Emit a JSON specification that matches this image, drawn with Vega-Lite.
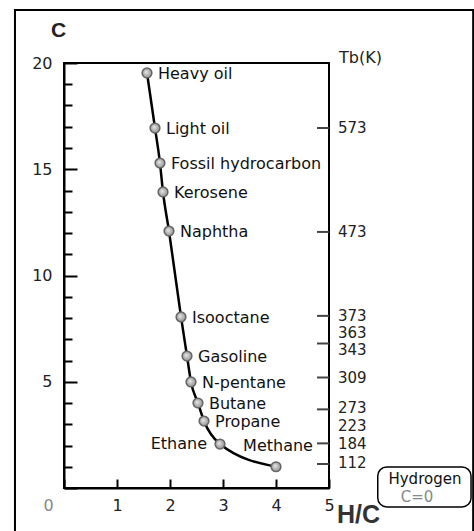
{
  "$schema": "https://vega.github.io/schema/vega-lite/v6.json",
  "width": 265,
  "height": 425,
  "autosize": {"type": "none"},
  "padding": {"left": 64, "top": 63, "right": 145, "bottom": 43},
  "background": "white",
  "config": {
    "view": {"stroke": "black", "strokeWidth": 2},
    "text": {"font": "DejaVu Sans", "fontSize": 16, "color": "#111"},
    "axis": {"grid": false, "domainColor": "black", "domainWidth": 2, "tickColor": "black", "tickWidth": 2,
      "labelFont": "DejaVu Sans", "labelFontSize": 16, "labelColor": "#222", "labelFlush": false, "labelOverlap": false,
      "titleFont": "Liberation Sans", "titleFontWeight": "bold", "titleAlign": "center", "titleBaseline": "middle"}
  },
  "datasets": {
    "points": [
      {"name": "Heavy oil", "hc": 1.566, "c": 19.53},
      {"name": "Light oil", "hc": 1.717, "c": 16.94},
      {"name": "Fossil hydrocarbon", "hc": 1.811, "c": 15.29},
      {"name": "Kerosene", "hc": 1.868, "c": 13.93},
      {"name": "Naphtha", "hc": 1.981, "c": 12.09},
      {"name": "Isooctane", "hc": 2.208, "c": 8.05},
      {"name": "Gasoline", "hc": 2.321, "c": 6.21},
      {"name": "N-pentane", "hc": 2.396, "c": 4.99},
      {"name": "Butane", "hc": 2.528, "c": 4.0},
      {"name": "Propane", "hc": 2.642, "c": 3.15},
      {"name": "Ethane", "hc": 2.943, "c": 2.07},
      {"name": "Methane", "hc": 4.0, "c": 1.0}
    ],
    "tbLabels": [
      {"tb": "573", "c": 16.94},
      {"tb": "473", "c": 12.05},
      {"tb": "373", "c": 8.1},
      {"tb": "363", "c": 7.3},
      {"tb": "343", "c": 6.5},
      {"tb": "309", "c": 5.2},
      {"tb": "273", "c": 3.75},
      {"tb": "223", "c": 2.9},
      {"tb": "184", "c": 2.07},
      {"tb": "112", "c": 1.2}
    ],
    "tbTicks": [
      {"c": 16.94}, {"c": 12.05}, {"c": 8.1}, {"c": 6.8}, {"c": 5.2},
      {"c": 3.7}, {"c": 2.1}, {"c": 1.13}
    ]
  },
  "layer": [
    {
      "data": {"name": "points"},
      "mark": {"type": "line", "interpolate": "monotone", "color": "black", "strokeWidth": 2.5},
      "encoding": {
        "order": {"field": "hc", "type": "quantitative"},
        "x": {"field": "hc", "type": "quantitative", "scale": {"domain": [0, 5], "nice": false, "zero": false},
          "axis": {"tickCount": 10, "tickMinStep": 1, "title": "H/C", "titleX": 294, "titleY": 26, "titleFontSize": 25, "titleColor": "#333", "tickSize": -9, "labelPadding": 18,
            "labelColor": {"condition": {"test": "datum.value === 0", "value": "#888"}, "value": "#222"},
            "labelOffset": {"condition": {"test": "datum.value === 0", "value": -16}, "value": 0}}},
        "y": {"field": "c", "type": "quantitative", "scale": {"domain": [0, 20], "nice": false, "zero": false},
          "axis": {"tickCount": 40, "tickMinStep": 1, "title": "C", "titleAngle": 0, "titleX": -6, "titleY": -33, "titleFontSize": 21, "titleColor": "#222",
            "tickSize": {"condition": {"test": "datum.value % 5 === 0", "value": -13}, "value": -8}, "labelPadding": 25,
            "labelExpr": "(datum.value % 5 === 0 && datum.value > 0) ? datum.label : ''"}}
      }
    },
    {
      "data": {"values": [{}]},
      "mark": {"type": "rect", "fill": null, "stroke": "black", "strokeWidth": 2, "clip": false},
      "encoding": {
        "x": {"datum": -0.925, "type": "quantitative", "scale": {"domain": [0, 5], "nice": false, "zero": false}},
        "x2": {"datum": 7.72},
        "y": {"datum": 22.5, "type": "quantitative", "scale": {"domain": [0, 20], "nice": false, "zero": false}},
        "y2": {"datum": -2.7}
      }
    },
    {
      "data": {"name": "points"},
      "mark": {
        "type": "point", "shape": "circle", "size": 95, "filled": true, "opacity": 1,
        "fill": {"gradient": "radial", "x1": 0.4, "y1": 0.4, "r1": 0, "x2": 0.5, "y2": 0.5, "r2": 0.55,
          "stops": [{"offset": 0, "color": "#e8e8e8"}, {"offset": 1, "color": "#8a8a8a"}]},
        "stroke": "#666", "strokeWidth": 1.5
      },
      "encoding": {
        "x": {"field": "hc", "type": "quantitative", "scale": {"domain": [0, 5], "nice": false, "zero": false}},
        "y": {"field": "c", "type": "quantitative", "scale": {"domain": [0, 20], "nice": false, "zero": false}}
      }
    },
    {
      "data": {"name": "points"},
      "transform": [{"filter": "datum.name !== 'Ethane' && datum.name !== 'Methane'"}],
      "mark": {"type": "text", "align": "left", "baseline": "middle", "dx": 11, "dy": 1},
      "encoding": {
        "x": {"field": "hc", "type": "quantitative", "scale": {"domain": [0, 5], "nice": false, "zero": false}},
        "y": {"field": "c", "type": "quantitative", "scale": {"domain": [0, 20], "nice": false, "zero": false}},
        "text": {"field": "name"}
      }
    },
    {
      "data": {"name": "points"},
      "transform": [{"filter": "datum.name === 'Ethane'"}],
      "mark": {"type": "text", "align": "right", "baseline": "middle", "dx": -13, "dy": 0},
      "encoding": {
        "x": {"field": "hc", "type": "quantitative", "scale": {"domain": [0, 5], "nice": false, "zero": false}},
        "y": {"field": "c", "type": "quantitative", "scale": {"domain": [0, 20], "nice": false, "zero": false}},
        "text": {"field": "name"}
      }
    },
    {
      "data": {"name": "points"},
      "transform": [{"filter": "datum.name === 'Methane'"}],
      "mark": {"type": "text", "align": "center", "baseline": "middle", "dx": 2, "dy": -21},
      "encoding": {
        "x": {"field": "hc", "type": "quantitative", "scale": {"domain": [0, 5], "nice": false, "zero": false}},
        "y": {"field": "c", "type": "quantitative", "scale": {"domain": [0, 20], "nice": false, "zero": false}},
        "text": {"field": "name"}
      }
    },
    {
      "data": {"name": "tbTicks"},
      "mark": {"type": "rule", "color": "#444", "strokeWidth": 2},
      "encoding": {
        "x": {"datum": 4.774, "type": "quantitative", "scale": {"domain": [0, 5], "nice": false, "zero": false}},
        "x2": {"datum": 5},
        "y": {"field": "c", "type": "quantitative", "scale": {"domain": [0, 20], "nice": false, "zero": false}}
      }
    },
    {
      "data": {"name": "tbLabels"},
      "mark": {"type": "text", "align": "left", "baseline": "middle", "dx": 9, "clip": false, "color": "#222", "fontSize": 15},
      "encoding": {
        "x": {"datum": 5, "type": "quantitative", "scale": {"domain": [0, 5], "nice": false, "zero": false}},
        "y": {"field": "c", "type": "quantitative", "scale": {"domain": [0, 20], "nice": false, "zero": false}},
        "text": {"field": "tb"}
      }
    },
    {
      "data": {"values": [{}]},
      "mark": {"type": "text", "align": "left", "baseline": "middle", "dx": 10, "dy": -5, "clip": false, "text": "Tb(K)", "color": "#222"},
      "encoding": {
        "x": {"datum": 5, "type": "quantitative", "scale": {"domain": [0, 5], "nice": false, "zero": false}},
        "y": {"datum": 20, "type": "quantitative", "scale": {"domain": [0, 20], "nice": false, "zero": false}}
      }
    },
    {
      "data": {"values": [{}]},
      "mark": {"type": "rect", "fill": "white", "stroke": "black", "strokeWidth": 1.5, "cornerRadius": 9, "clip": false},
      "encoding": {
        "x": {"datum": 5.92, "type": "quantitative", "scale": {"domain": [0, 5], "nice": false, "zero": false}},
        "x2": {"datum": 7.68},
        "y": {"datum": 0.99, "type": "quantitative", "scale": {"domain": [0, 20], "nice": false, "zero": false}},
        "y2": {"datum": -0.89}
      }
    },
    {
      "data": {"values": [{}]},
      "mark": {"type": "text", "align": "center", "baseline": "middle", "clip": false, "text": "Hydrogen", "fontSize": 15},
      "encoding": {
        "x": {"datum": 6.81, "type": "quantitative", "scale": {"domain": [0, 5], "nice": false, "zero": false}},
        "y": {"datum": 0.42, "type": "quantitative", "scale": {"domain": [0, 20], "nice": false, "zero": false}}
      }
    },
    {
      "data": {"values": [{}]},
      "mark": {"type": "text", "align": "center", "baseline": "middle", "clip": false, "text": "C=0", "color": "#888", "fontSize": 15},
      "encoding": {
        "x": {"datum": 6.66, "type": "quantitative", "scale": {"domain": [0, 5], "nice": false, "zero": false}},
        "y": {"datum": -0.42, "type": "quantitative", "scale": {"domain": [0, 20], "nice": false, "zero": false}}
      }
    }
  ]
}
